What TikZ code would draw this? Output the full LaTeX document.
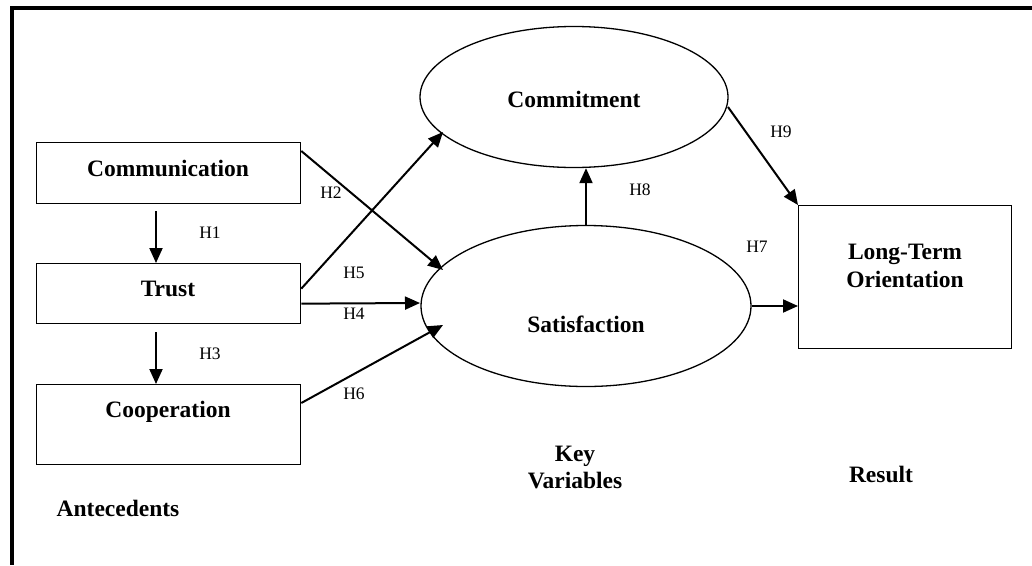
\documentclass[tikz,border=0pt]{standalone}
\usepackage{fontspec}
\setmainfont{Liberation Serif}
\usetikzlibrary{arrows.meta,shapes.geometric,calc}
\begin{document}
\begin{tikzpicture}[x=1pt,y=-1pt,
  box/.style={draw,line width=1.3pt,inner sep=0pt,anchor=north west},
  oval/.style={draw,ellipse,line width=1.3pt,inner sep=0pt},
  big/.style={font=\fontsize{23.5}{27}\selectfont\bfseries,anchor=base,inner sep=0pt},
  hyp/.style={font=\fontsize{17.5}{20}\selectfont,anchor=base,inner sep=0pt},
  arr/.style={line width=2pt,-{Triangle[length=15pt,width=13pt]}},
  frame/.style={line width=3.5pt}]
\useasboundingbox (0,0) rectangle (1032,565);
% frame (top and left)
\coordinate (ftr) at (1032,8);
\coordinate (ftl) at (12,8);
\coordinate (fbl) at (12,565);
\draw[frame] (ftr) -- (ftl) -- (fbl);
% boxes
\node[box,minimum width=264pt,minimum height=61pt] (comm) at (36,142) {};
\node[box,minimum width=264pt,minimum height=60pt] (trust) at (36,263) {};
\node[box,minimum width=264pt,minimum height=80pt] (coop) at (36,384) {};
\node[box,minimum width=213pt,minimum height=143pt] (lt) at (798,205) {};
% ellipses
\node[oval,minimum width=308pt,minimum height=141pt] (cmt) at (574,97) {};
\node[oval,minimum width=330pt,minimum height=161pt] (sat) at (586,306) {};
% texts
\node[big] (tcomm) at (168,176) {Communication};
\node[big] (ttrust) at (168,296) {Trust};
\node[big] (tcoop) at (168,417) {Cooperation};
\node[big] (tcmt) at (574,107) {Commitment};
\node[big] (tsat) at (586,332) {Satisfaction};
\node[big] (tlt1) at (905,259) {Long-Term};
\node[big] (tlt2) at (905,287) {Orientation};
\node[big] (tkey1) at (575,461) {Key};
\node[big] (tkey2) at (575,488) {Variables};
\node[big] (tres) at (881,482) {Result};
\node[big] (tant) at (118,516) {Antecedents};
% hypothesis labels
\node[hyp] (h1) at (210,238) {H1};
\node[hyp] (h2) at (331,198) {H2};
\node[hyp] (h3) at (210,359) {H3};
\node[hyp] (h4) at (354,319) {H4};
\node[hyp] (h5) at (354,278) {H5};
\node[hyp] (h6) at (354,399) {H6};
\node[hyp] (h7) at (757,252) {H7};
\node[hyp] (h8) at (640,195) {H8};
\node[hyp] (h9) at (781,137) {H9};
% connectors
\draw[arr] ($(comm.south west)+(120,7)$) -- ($(trust.north west)+(120,0)$);
\draw[arr] ($(trust.south west)+(120,8)$) -- ($(coop.north west)+(120,0)$);
\draw[arr] ($(comm.north east)+(0,9)$) -- ($(sat.center)+(-143,-36)$);
\draw[arr] ($(trust.east)+(0,-5)$) -- ($(cmt.center)+(-131,35)$);
\draw[arr] ($(trust.east)+(0,10)$) -- ($(sat.center)+(-166,-3)$);
\draw[arr] ($(coop.north east)+(0,19)$) -- ($(sat.center)+(-143,19)$);
\draw[arr] (sat.north) -- (sat.north |- cmt.south);
\draw[arr] ($(cmt.center)+(154,10)$) -- (lt.north west);
\draw[arr] (sat.east) -- (lt.west |- sat.east);
\end{tikzpicture}
\end{document}
